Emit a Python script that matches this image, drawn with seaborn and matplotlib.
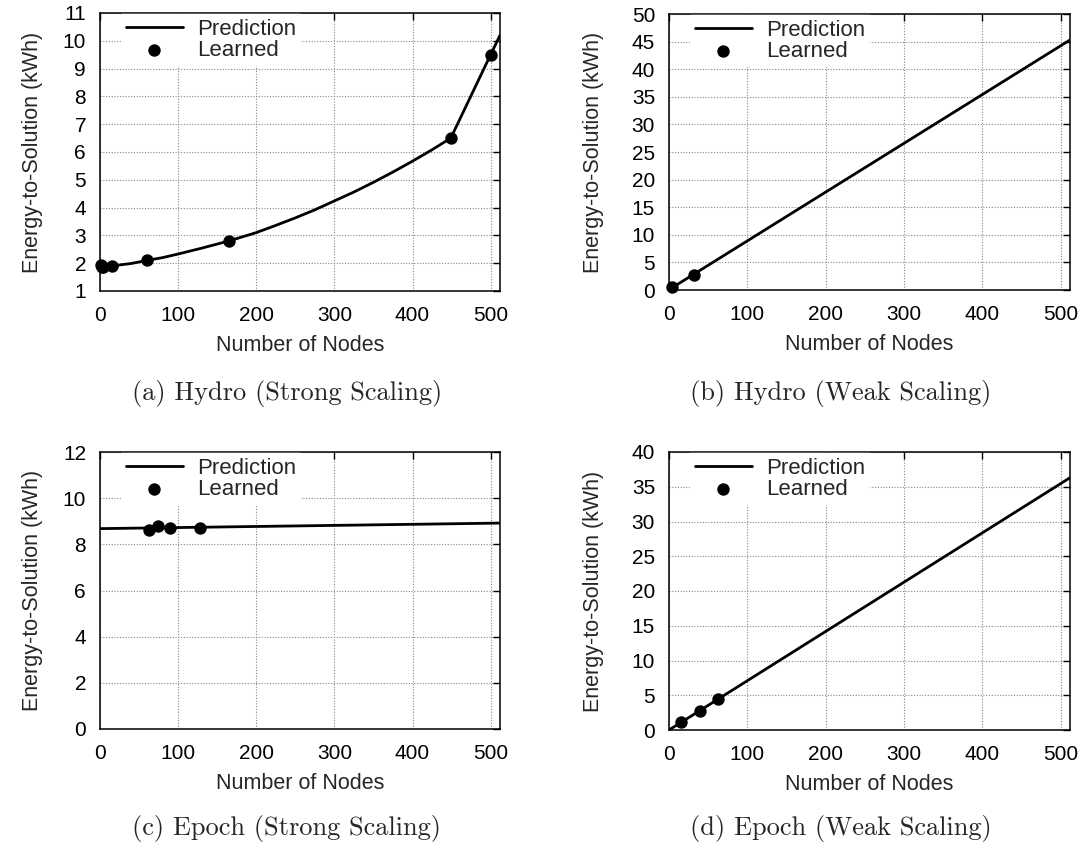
import numpy as np
import pandas as pd
import matplotlib
matplotlib.use("Agg")
import matplotlib.pyplot as plt
import seaborn as sns

# ---------------- data ----------------
# (a) Hydro strong scaling
a_pred_x = [0, 2, 15, 40, 60, 80, 100, 130, 165, 200, 225, 250, 275, 300, 325,
            350, 375, 400, 425, 449, 500, 512]
a_pred_y = [1.9, 1.88, 1.9, 1.99, 2.1, 2.2, 2.33, 2.54, 2.8, 3.1, 3.36, 3.63,
            3.92, 4.24, 4.56, 4.91, 5.28, 5.67, 6.08, 6.5, 9.5, 10.2]
a_learn_x = [1, 2, 4, 15, 60, 165, 449, 500]
a_learn_y = [1.95, 1.85, 1.88, 1.9, 2.1, 2.8, 6.5, 9.5]

# (b) Hydro weak scaling
b_pred_x = [0, 512]
b_pred_y = [0.06, 45.3]
b_learn_x = [4, 32]
b_learn_y = [0.5, 2.8]

# (c) Epoch strong scaling
c_pred_x = [0, 512]
c_pred_y = [8.68, 8.92]
c_learn_x = [63, 74, 89, 128]
c_learn_y = [8.61, 8.81, 8.71, 8.71]

# (d) Epoch weak scaling
d_pred_x = [0, 512]
d_pred_y = [0.0, 36.3]
d_learn_x = [15, 39, 63]
d_learn_y = [1.1, 2.8, 4.5]

x_ticks = [0, 100, 200, 300, 400, 500]
panels = [
    dict(px=a_pred_x, py=a_pred_y, lx=a_learn_x, ly=a_learn_y,
         ylim=(1, 11), yticks=list(range(1, 12)), cap="(a) Hydro (Strong Scaling)"),
    dict(px=b_pred_x, py=b_pred_y, lx=b_learn_x, ly=b_learn_y,
         ylim=(0, 50), yticks=list(range(0, 51, 5)), cap="(b) Hydro (Weak Scaling)"),
    dict(px=c_pred_x, py=c_pred_y, lx=c_learn_x, ly=c_learn_y,
         ylim=(0, 12), yticks=list(range(0, 13, 2)), cap="(c) Epoch (Strong Scaling)"),
    dict(px=d_pred_x, py=d_pred_y, lx=d_learn_x, ly=d_learn_y,
         ylim=(0, 40), yticks=list(range(0, 41, 5)), cap="(d) Epoch (Weak Scaling)"),
]

# ---------------- style ----------------
sns.set_style("white")
plt.rcParams['font.family'] = ['Liberation Sans', 'DejaVu Sans']

W, H = 1086, 850
fig = plt.figure(figsize=(W / 100, H / 100), dpi=100)

# axes boxes in pixels: left, top, right, bottom
boxes = [(100, 13, 500, 291), (669, 14, 1070, 290),
         (100, 452, 500, 729), (669, 452, 1070, 730)]
cap_pos = [(287, 393), (841, 393), (287, 828), (841, 828)]
ylabel_pads = [14, 20, 14, 20]

for p, (l, t, r, b), (cx, cy), lp in zip(panels, boxes, cap_pos, ylabel_pads):
    ax = fig.add_axes([l / W, 1 - b / H, (r - l) / W, (b - t) / H])
    dfp = pd.DataFrame({"x": p["px"], "y": p["py"]})
    dfl = pd.DataFrame({"x": p["lx"], "y": p["ly"]})
    sns.lineplot(data=dfp, x="x", y="y", ax=ax, color="black", linewidth=2.0,
                 label="Prediction", zorder=3)
    sns.scatterplot(data=dfl, x="x", y="y", ax=ax, color="black", s=80,
                    edgecolor="black", linewidth=0, label="Learned", zorder=4,
                    clip_on=False)
    ax.set_xlim(0, 512)
    ax.set_ylim(*p["ylim"])
    ax.set_xticks(x_ticks)
    ax.set_yticks(p["yticks"])
    ax.grid(True, linestyle=(0, (1, 1.5)), color="#888888", linewidth=0.8)
    ax.set_axisbelow(True)
    ax.tick_params(direction="in", length=5, width=1, top=True, right=True,
                   labelsize=15, colors="black")
    ax.tick_params(axis="x", pad=11)
    ax.tick_params(axis="y", pad=10)
    for s in ax.spines.values():
        s.set_visible(True)
        s.set_color("black")
        s.set_linewidth(1.1)
    ax.set_xlabel("Number of Nodes", fontsize=15.5, labelpad=7)
    ax.set_ylabel("Energy-to-Solution (kWh)", fontsize=15.5, labelpad=lp)
    leg = ax.legend(loc="upper left", bbox_to_anchor=(0.05, 1.0),
                    fontsize=16, frameon=True,
                    facecolor="white", edgecolor="white", framealpha=1,
                    borderpad=0.2, labelspacing=0.0, handlelength=2.6,
                    handletextpad=0.6, borderaxespad=0.05, fancybox=False)
    leg.set_zorder(5)
    fig.text(cx / W, 1 - cy / H, p["cap"], fontfamily="cmr10", fontsize=19,
             ha="center", va="center")

fig.savefig("out.png", dpi=100)
